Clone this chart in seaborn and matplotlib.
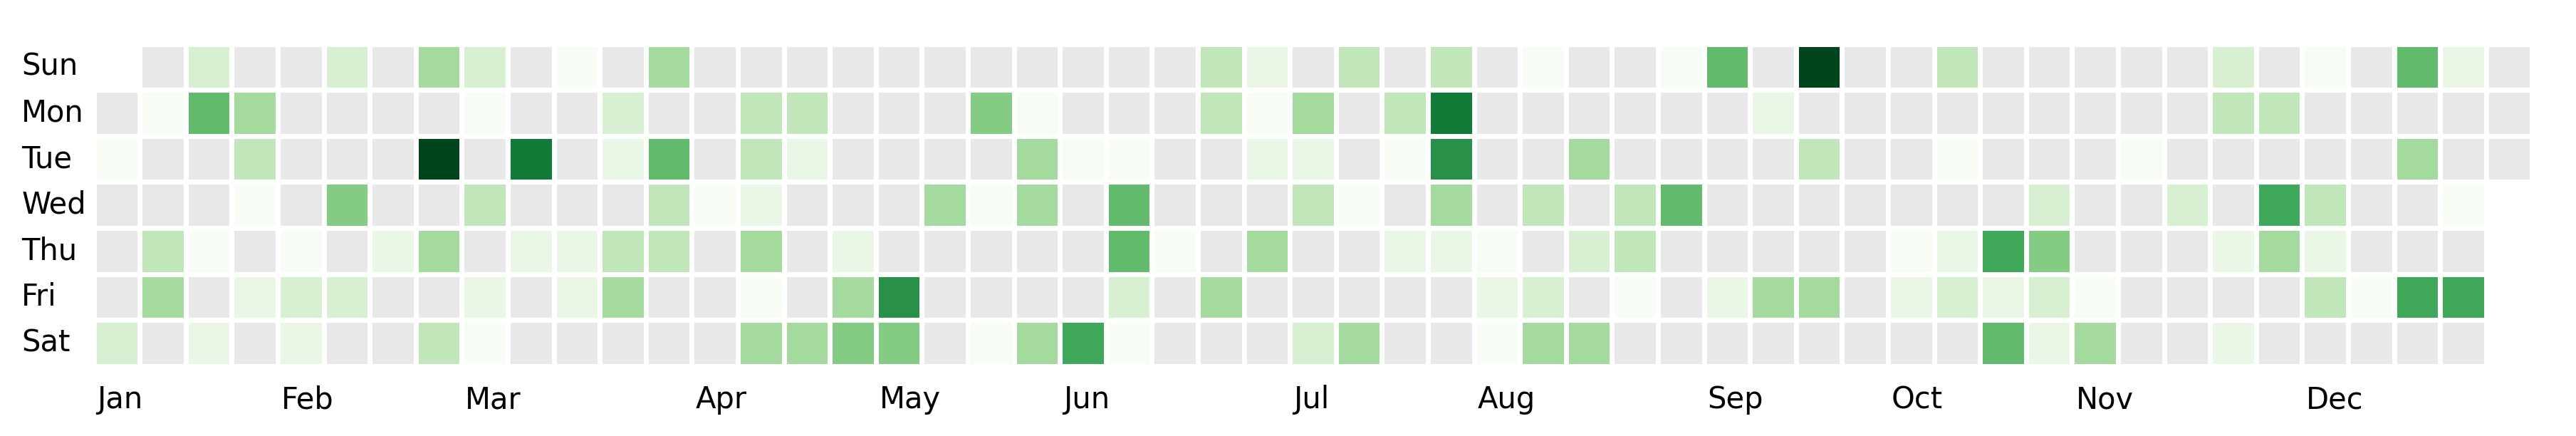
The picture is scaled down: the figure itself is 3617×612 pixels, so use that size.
"""
Calendar heatmap of daily activity for 2024 (GitHub-style).
Weeks run left to right, weekdays top to bottom; zero days drawn gray.
"""

import matplotlib

matplotlib.use("Agg")

import matplotlib.pyplot as plt
import matplotlib.transforms as mtransforms
import numpy as np
import pandas as pd
import seaborn as sns
from matplotlib.colors import ListedColormap

YEAR = 2024
N = None  # day outside the year

days = ["Sun", "Mon", "Tue", "Wed", "Thu", "Fri", "Sat"]
month_labels = ["Jan", "Feb", "Mar", "Apr", "May", "Jun",
                "Jul", "Aug", "Sep", "Oct", "Nov", "Dec"]

# daily counts per weekday row, one entry per week column (53 weeks)
sun = [N, 0, 3, 0, 0, 3, 0, 5,  3, 0, 1, 0, 5, 0, 0, 0,  0, 0, 0, 0, 0, 0, 0, 0,
       4, 2, 0, 4, 0, 4, 0, 1,  0, 0, 1, 7, 0, 12, 0, 0,  4, 0, 0, 0, 0, 0, 3, 0,
       1, 0, 7, 2, 0]
mon = [0, 1, 7, 5, 0, 0, 0, 0,  1, 0, 0, 3, 0, 0, 4, 4,  0, 0, 0, 6, 1, 0, 0, 0,
       4, 1, 5, 0, 4, 10, 0, 0,  0, 0, 0, 0, 2, 0, 0, 0,  0, 0, 0, 0, 0, 0, 4, 4,
       0, 0, 0, 0, 0]
tue = [1, 0, 0, 4, 0, 0, 0, 12,  0, 10, 0, 2, 7, 0, 4, 2,  0, 0, 0, 0, 5, 1, 1, 0,
       0, 2, 2, 0, 1, 9, 0, 0,  5, 0, 0, 0, 0, 4, 0, 0,  1, 0, 0, 0, 1, 0, 0, 0,
       0, 0, 5, 0, 0]
wed = [0, 0, 0, 1, 0, 6, 0, 0,  4, 0, 0, 0, 4, 1, 2, 0,  0, 0, 5, 1, 5, 0, 7, 0,
       0, 0, 4, 1, 0, 5, 0, 4,  0, 4, 7, 0, 0, 0, 0, 0,  0, 0, 3, 0, 0, 3, 0, 8,
       4, 0, 0, 1, N]
thu = [0, 4, 1, 0, 1, 0, 2, 5,  0, 2, 2, 4, 4, 0, 5, 0,  2, 0, 0, 0, 0, 0, 7, 1,
       0, 5, 0, 0, 2, 2, 1, 0,  3, 4, 0, 0, 0, 0, 0, 1,  2, 8, 6, 0, 0, 0, 2, 5,
       2, 0, 0, 0, N]
fri = [0, 5, 0, 2, 3, 3, 0, 0,  2, 0, 2, 5, 0, 0, 1, 0,  5, 9, 0, 0, 0, 0, 3, 0,
       5, 0, 0, 0, 0, 0, 2, 3,  0, 1, 0, 2, 5, 5, 0, 2,  3, 2, 3, 1, 0, 0, 0, 0,
       4, 1, 8, 8, N]
sat = [3, 0, 2, 0, 2, 0, 0, 4,  1, 0, 0, 0, 0, 0, 5, 5,  6, 6, 0, 1, 5, 8, 1, 0,
       0, 0, 3, 5, 0, 0, 1, 5,  5, 0, 0, 0, 0, 0, 0, 0,  0, 7, 2, 5, 0, 0, 2, 0,
       0, 0, 0, 0, N]


def week_column(ts: pd.Timestamp) -> int:
    # weeks start on Sunday; column 0 holds Jan 1
    jan1 = pd.Timestamp(YEAR, 1, 1)
    offset = (jan1.dayofweek + 1) % 7
    return (ts.dayofyear - 1 + offset) // 7


def main() -> None:
    grid = pd.DataFrame([sun, mon, tue, wed, thu, fri, sat], index=days, dtype=float)
    in_year = grid.notna()
    active = grid.where(grid > 0)
    base = grid.where(in_year) * 0

    W, H, DPI = 3617, 612, 200
    fig = plt.figure(figsize=(W / DPI, H / DPI), dpi=DPI)
    ax = fig.add_axes([131.5 / W, 1 - 514 / H, (3555.5 - 131.5) / W, (514 - 61.5) / H])

    lw = 2.5
    sns.heatmap(base, cmap=ListedColormap(["#e8e8e8"]), vmin=0, vmax=1, cbar=False,
                linewidths=lw, linecolor="white", ax=ax)
    sns.heatmap(active, cmap="Greens", vmin=1, vmax=12, cbar=False,
                linewidths=lw, linecolor="white", ax=ax)

    # weekday labels, left-aligned
    ax.set_yticks(np.arange(len(days)) + 0.5)
    ax.set_yticklabels(days, rotation=0, ha="left", fontsize=15)
    ax.tick_params(axis="y", length=0, pad=36.5)

    # month labels at the week column of each month's first day
    month_cols = [week_column(pd.Timestamp(YEAR, m, 1)) for m in range(1, 13)]
    ax.set_xticks(month_cols)
    ax.set_xticklabels(month_labels, rotation=0, ha="left", fontsize=15)
    ax.tick_params(axis="x", length=0, pad=9.4)
    shift = mtransforms.ScaledTranslation(5 / DPI, 0, fig.dpi_scale_trans)
    for lab in ax.get_xticklabels():
        lab.set_transform(lab.get_transform() + shift)

    ax.set_xlabel("")
    ax.set_ylabel("")
    fig.savefig("out.png", dpi=DPI, facecolor="white")
    plt.close(fig)


if __name__ == "__main__":
    main()
